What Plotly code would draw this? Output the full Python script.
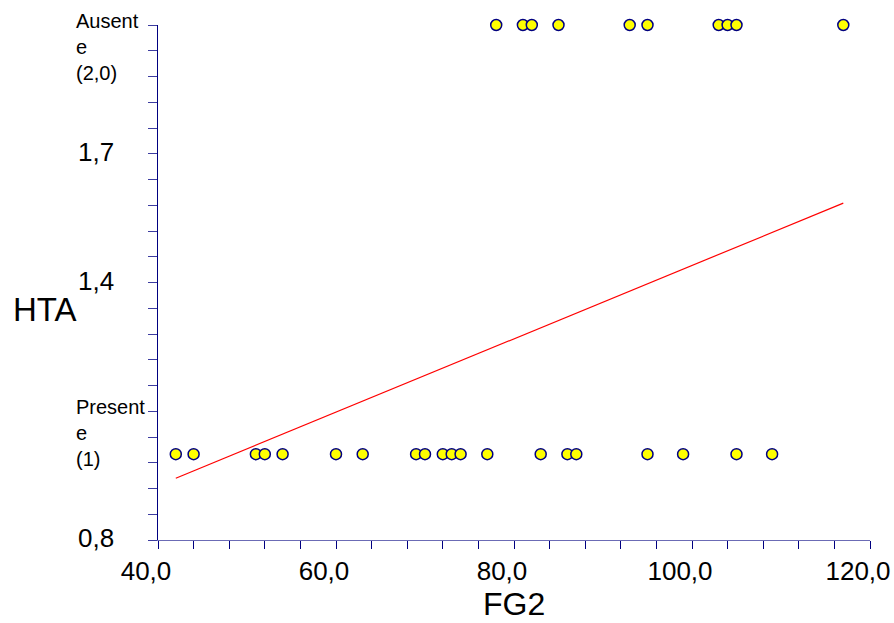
import plotly.graph_objects as go

# FG2 values for each HTA group
fg2_presente = [42, 44, 51, 52, 54, 60, 63, 69, 70, 72, 73, 74, 77, 83, 86, 87, 95, 99, 105, 109]
fg2_ausente = [78, 81, 82, 85, 93, 95, 103, 104, 105, 117]
hta_presente = [1.0] * len(fg2_presente)
hta_ausente = [2.0] * len(fg2_ausente)

# fitted trend line (endpoints)
fit_x = [42, 117]
fit_y = [0.944, 1.585]

# axis labelling
x_tickvals = [40, 60, 80, 100, 120]
x_ticktext = ["40,0", "60,0", "80,0", "100,0", "120,0"]
y_num_vals = [0.8, 1.4, 1.7]
y_num_text = ["0,8", "1,4", "1,7"]
y_cat_vals = [1.1, 2.0]
y_cat_text = ["Present<br>e<br>(1)", "Ausent<br>e<br>(2,0)"]

FONT = "Liberation Sans, Arial, sans-serif"
NAVY = "#000080"

fig = go.Figure()

fig.add_trace(go.Scatter(
    x=fit_x, y=fit_y, mode="lines",
    line=dict(color="#ff0000", width=1.2),
    hoverinfo="skip", showlegend=False,
))

fig.add_trace(go.Scatter(
    x=fg2_presente + fg2_ausente,
    y=hta_presente + hta_ausente,
    mode="markers",
    marker=dict(size=11, color="#ffff00", line=dict(color=NAVY, width=1.5)),
    cliponaxis=False, showlegend=False,
))

fig.update_xaxes(
    range=[40, 120], showgrid=False, zeroline=False, automargin=False,
    showline=True, linecolor="#6b6bb5", linewidth=1,
    tickvals=x_tickvals, ticktext=x_ticktext,
    ticks="outside", ticklen=8, tickcolor=NAVY, tickwidth=1,
    minor=dict(dtick=4, tick0=40, ticks="outside", ticklen=8, tickcolor=NAVY, tickwidth=1, showgrid=False),
    tickfont=dict(family=FONT, size=26, color="black"),
    ticklabelshift=-12, ticklabelstandoff=0,
)

fig.update_yaxes(
    range=[0.8, 2.0], showgrid=False, zeroline=False, automargin=False,
    showline=True, linecolor=NAVY, linewidth=1,
    tick0=0.8, dtick=0.06, ticks="outside", ticklen=9,
    tickcolor="#3c3ca0", tickwidth=1,
    showticklabels=False,
)

annotations = []
for v, t in zip(y_num_vals, y_num_text):
    annotations.append(dict(
        x=0, xref="paper", y=v, yref="y", text=t, showarrow=False,
        xanchor="left", yanchor="middle", xshift=-82, yshift=2,
        font=dict(family=FONT, size=26, color="black"),
    ))
for v, t in zip(y_cat_vals, y_cat_text):
    annotations.append(dict(
        x=0, xref="paper", y=v, yref="y", text=t, showarrow=False,
        xanchor="left", yanchor="top", align="left", xshift=-84, yshift=17,
        font=dict(family=FONT, size=20, color="black"),
    ))
annotations.append(dict(
    x=0, xref="paper", y=1.336, yref="y", text="HTA", showarrow=False,
    xanchor="left", yanchor="middle", xshift=-147,
    font=dict(family=FONT, size=33, color="black"),
))
annotations.append(dict(
    x=0.5, xref="paper", y=0, yref="paper", text="FG2", showarrow=False,
    xanchor="center", yanchor="middle", yshift=-64,
    font=dict(family=FONT, size=32, color="black"),
))

fig.update_layout(
    width=894, height=623,
    margin=dict(l=158, r=24, t=25, b=83),
    paper_bgcolor="white", plot_bgcolor="white",
    annotations=annotations,
    showlegend=False,
)

fig.write_html("out.html")
